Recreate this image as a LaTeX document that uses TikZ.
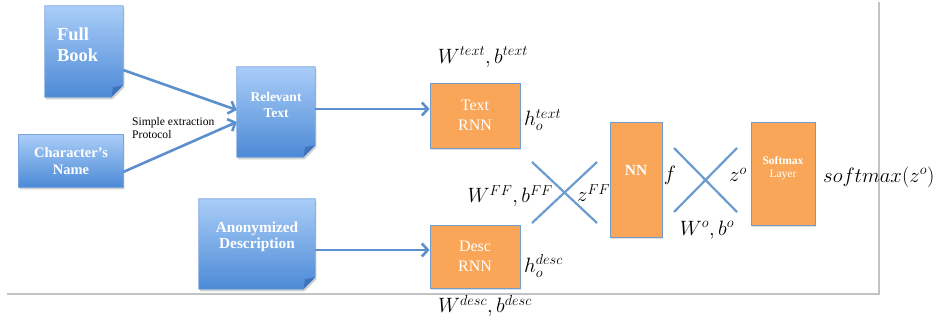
\documentclass[tikz,border=0pt]{standalone}
\usepackage{fontspec}
\setmainfont{Liberation Serif}
\usetikzlibrary{arrows.meta,backgrounds,calc,shadows}
\definecolor{bluetop}{RGB}{170,205,248}
\definecolor{bluebot}{RGB}{76,138,214}
\definecolor{blueedge}{RGB}{122,165,222}
\definecolor{foldc}{RGB}{62,116,190}
\definecolor{arrowc}{RGB}{92,143,205}
\definecolor{orangef}{RGB}{250,166,88}
\definecolor{orangee}{RGB}{115,155,205}
\definecolor{crossc}{RGB}{108,155,207}
\definecolor{grayl}{RGB}{195,195,195}
\newcommand\docshape[2]{% #1 node, #2 fold size (0 = none)
  \begin{scope}[on background layer]
  \fill[black,opacity=0.18,transform canvas={xshift=1.2pt,yshift=-2.2pt}] (#1.north west) -- (#1.north east) -- ([yshift=#2pt]#1.south east) -- ([xshift=-#2pt]#1.south east) -- (#1.south west) -- cycle;
  \shadedraw[top color=bluetop,bottom color=bluebot,draw=blueedge,line width=0.8pt] (#1.north west) -- (#1.north east) -- ([yshift=#2pt]#1.south east) -- ([xshift=-#2pt]#1.south east) -- (#1.south west) -- cycle;
  \end{scope}}
\newcommand\docfold[2]{%
  \fill[foldc] ([yshift=#2pt]#1.south east) -- ([xshift=-#2pt]#1.south east) -- ([shift={(-#2pt+2pt,#2pt-2pt)}]#1.south east) -- cycle;}
\tikzset{
  docbox/.style={rectangle, inner sep=0pt},
  doctext/.style={text=white, font=\bfseries, align=center, inner sep=0pt},
  orbox/.style={rectangle, fill=orangef, draw=orangee, line width=0.8pt, text=white, align=center, inner sep=0pt,
    drop shadow={opacity=0.25,shadow xshift=1.2pt,shadow yshift=-2.2pt}},
  conn/.style={arrowc, line width=2.6pt, -{Straight Barb[length=6pt,width=13pt]}},
  crossl/.style={crossc, line width=2.2pt},
  lbl/.style={inner sep=0pt, font=\fontsize{20}{22}\selectfont}
}
\begin{document}
\begin{tikzpicture}[x=1pt,y=-1pt]
\path[use as bounding box] (0,0) rectangle (936,321);
\draw[grayl,line width=1.3pt] (7,294) -- (879,294) -- (879,2);

% blue document boxes
\node[docbox,minimum width=78pt,minimum height=91pt] (fullbook) at (84,51.5) {};
\node[doctext,align=left,anchor=west,font=\bfseries\fontsize{18.4}{21}\selectfont] (fullbooktxt) at (57,45) {Full\\Book};
\node[docbox,minimum width=104pt,minimum height=52pt] (charname) at (71,161) {};
\node[doctext,font=\bfseries\fontsize{14.5}{16.5}\selectfont] (charnametxt) at (71,161) {Character's\\Name};
\node[docbox,minimum width=78pt,minimum height=90pt] (relevant) at (276,112) {};
\node[doctext,font=\bfseries\fontsize{13.5}{15.5}\selectfont] (relevanttxt) at (276,105) {Relevant\\Text};
\node[docbox,minimum width=116pt,minimum height=90pt] (anon) at (257,244) {};
\node[doctext,font=\bfseries\fontsize{15.3}{16.5}\selectfont] (anontxt) at (257,237) {Anonymized\\Description};
\docshape{fullbook}{12}
\docshape{charname}{0}
\docshape{relevant}{12}
\docshape{anon}{12}
\docfold{fullbook}{12}
\docfold{relevant}{12}
\docfold{anon}{12}

% orange boxes
\node[orbox,minimum width=90pt,minimum height=65pt,font=\fontsize{16}{20}\selectfont] (textrnn) at (475,115.5) {Text\\RNN};
\node[orbox,minimum width=90pt,minimum height=63pt,font=\fontsize{16}{20}\selectfont] (descrnn) at (475,256.5) {Desc\\RNN};
\node[orbox,minimum width=52pt,minimum height=115pt] (nn) at (636,179.5) {};
\node[doctext,font=\bfseries\fontsize{15.5}{18}\selectfont] (nntxt) at (636,170) {NN};
\node[orbox,minimum width=64pt,minimum height=103pt] (softmax) at (783,173.5) {};
\node[text=white,align=center,inner sep=0pt,font=\fontsize{11.5}{13}\selectfont] (softmaxtxt) at (783,168.5) {\textbf{Softmax}\\Layer};

% connectors
\draw[conn] ([yshift=-18.5pt]fullbook.east) -- ([yshift=2pt]relevant.west);
\draw[conn] ([yshift=-11pt]charname.east) -- ([yshift=-10pt]relevant.west);
\node[anchor=west,align=left,inner sep=0pt,font=\fontsize{11.6}{12.5}\selectfont] (simple) at (132,128) {Simple extraction\\Protocol};
\draw[conn] ([yshift=3pt]relevant.east) -- ([yshift=6.5pt]textrnn.west);
\draw[conn] ([yshift=-6pt]anon.east) -- ([yshift=6.5pt]descrnn.west);

% crossings
\draw[crossl] (532,162) -- (597,223);
\draw[crossl] (532,223) -- (597,162);
\draw[crossl] (674,148) -- (737,212);
\draw[crossl] (674,212) -- (737,148);

% labels
\node[lbl] (wtext) at (483,57) {$W^{text},b^{text}$};
\node[lbl,anchor=west] (htext) at (524,120) {$h_o^{text}$};
\node[lbl,anchor=east] (wff) at (553,196) {$W^{FF},b^{FF}$};
\node[lbl,anchor=west] (zff) at (577,193) {$z^{FF}$};
\node[lbl,anchor=west] (hdesc) at (524,266) {$h_o^{desc}$};
\node[lbl] (wdesc) at (485,306) {$W^{desc},b^{desc}$};
\node[lbl] (flbl) at (670,175) {$f$};
\node[lbl,anchor=west] (zo) at (729,175) {$z^o$};
\node[lbl] (wo) at (707,230) {$W^o,b^o$};
\node[lbl,anchor=west] (smx) at (823,177) {$softmax(z^o)$};
\end{tikzpicture}
\end{document}
